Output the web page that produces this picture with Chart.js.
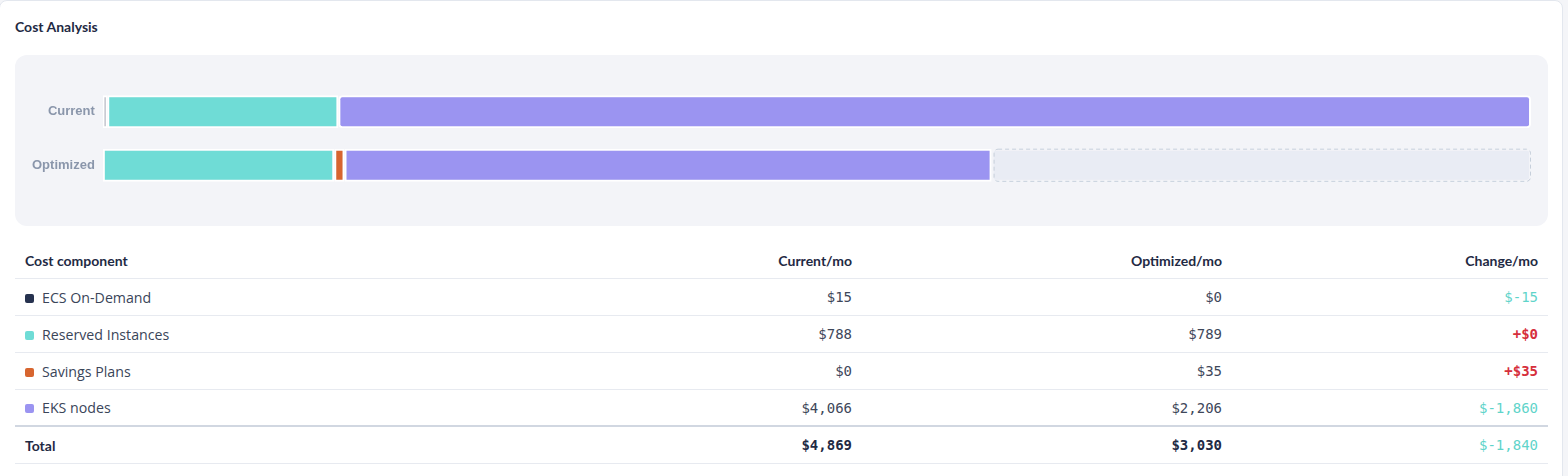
<!DOCTYPE html>
<html>
<head>
<meta charset="utf-8">
<script src="https://cdn.jsdelivr.net/npm/chart.js@4.4.1/dist/chart.umd.min.js"></script>
<style>
  html, body { margin: 0; padding: 0; background: #f4f5f8; }
  body { width: 1568px; height: 476px; overflow: hidden; font-family: "Open Sans", Lato, sans-serif; }
  .card {
    position: absolute; left: -1px; top: 0; width: 1564px; height: 500px;
    background: #fff; border: 1px solid #e3e7ee; border-radius: 8px; box-sizing: border-box;
  }
  .title {
    position: absolute; left: 15px; top: 17px;
    font-family: Lato, sans-serif; font-weight: 700; font-size: 14px; color: #1f2a44;
  }
  .panel {
    position: absolute; left: 15px; top: 54px; width: 1533px; height: 171px;
    background: #f3f4f8; border-radius: 12px;
  }
  table {
    position: absolute; left: 15px; top: 241px; width: 1533px;
    border-collapse: collapse; table-layout: fixed;
  }
  th, td { padding: 0 10px; height: 36px; font-size: 14.2px; color: #3a4559; border-bottom: 1px solid #e7eaf0; }
  th { font-family: Lato, sans-serif; font-weight: 700; color: #1f2a44; font-size: 14px; }
  th:first-child, td:first-child { text-align: left; }
  th:not(:first-child), td:not(:first-child) { text-align: right; }
  td.num { font-family: "DejaVu Sans Mono", monospace; font-size: 14px; color: #3e475a; }
  td.up { color: #d62f3c; font-weight: 700; }
  td.down { color: #5fd4ca; }
  tr.last td { height: 35px; border-bottom: 2px solid #d1d7e1; }
  tr.total td { font-weight: 700; color: #1f2a44; }
  tr.total td:first-child { font-family: Lato, sans-serif; font-size: 14px; }
  tr.total td.down { color: #5fd4ca; font-weight: 400; }
  .sw { display: inline-block; width: 9px; height: 9px; border-radius: 2px; margin-right: 8px; }
</style>
</head>
<body>
<div class="card">
  <div class="title">Cost Analysis</div>
  <div class="panel"><canvas id="chartCost"></canvas></div>
  <table id="costTable">
    <colgroup><col style="width:475px"><col style="width:372px"><col style="width:370px"><col style="width:316px"></colgroup>
    <thead><tr><th>Cost component</th><th>Current/mo</th><th>Optimized/mo</th><th>Change/mo</th></tr></thead>
    <tbody></tbody>
  </table>
</div>
<script>
// 비용 구성 요소
var components = ["ECS On-Demand", "Reserved Instances", "Savings Plans", "EKS nodes"];
var componentColors = ["#26324f", "#6fdcd6", "#d7652f", "#9b94f1"];
var rowLabels = ["Current", "Optimized"];

// 월 비용 (USD)
var currentCost = [15, 788, 0, 4066];
var optimizedCost = [0, 789, 35, 2206];
var changeCost = [-15, 0, 35, -1860];

var totalCurrent = 4869;
var totalOptimized = 3030;
var totalChange = -1840;

var fmt = function(n) { return "$" + n.toLocaleString("en-US"); };
var fmtChange = function(n) { return n >= 0 ? "+$" + n.toLocaleString("en-US") : "$" + n.toLocaleString("en-US"); };

// 표
var tbody = document.querySelector("#costTable tbody");
components.forEach(function(name, i) {
    var tr = document.createElement("tr");
    if (i === components.length - 1) tr.className = "last";
    tr.innerHTML =
        '<td><span class="sw" style="background:' + componentColors[i] + '"></span>' + name + '</td>' +
        '<td class="num">' + fmt(currentCost[i]) + '</td>' +
        '<td class="num">' + fmt(optimizedCost[i]) + '</td>' +
        '<td class="num ' + (changeCost[i] >= 0 ? "up" : "down") + '">' + fmtChange(changeCost[i]) + '</td>';
    tbody.appendChild(tr);
});
var trTotal = document.createElement("tr");
trTotal.className = "total";
trTotal.innerHTML = '<td>Total</td><td class="num">' + fmt(totalCurrent) + '</td><td class="num">' + fmt(totalOptimized) +
    '</td><td class="num ' + (totalChange >= 0 ? "up" : "down") + '">' + fmtChange(totalChange) + '</td>';
tbody.appendChild(trTotal);

// 차트 데이터셋
var datasets = components.map(function(name, i) {
    return {
        label: name,
        data: [currentCost[i], optimizedCost[i]],
        backgroundColor: componentColors[i],
        borderColor: "#ffffff",
        borderWidth: 2,
        borderSkipped: false,
        borderRadius: 4
    };
});
datasets.push({
    label: "gap",
    data: [0, totalCurrent - totalOptimized],
    backgroundColor: "#e9ecf4",
    borderColor: "#f3f4f8",
    borderWidth: 2,
    borderSkipped: false,
    borderRadius: 4
});

// 점선 테두리
var dashedGap = {
    id: "dashedGap",
    afterDatasetsDraw: function(chart) {
        var meta = chart.getDatasetMeta(chart.data.datasets.length - 1);
        var ctx = chart.ctx;
        meta.data.forEach(function(el, i) {
            if (!chart.data.datasets[meta.index].data[i]) return;
            var p = el.getProps(["x", "y", "base", "height"], true);
            var left = Math.min(p.x, p.base) + 2.5, right = Math.max(p.x, p.base) - 0.5;
            var top = p.y - p.height / 2 + 0.5, h = p.height - 1;
            ctx.save();
            ctx.setLineDash([4, 3]);
            ctx.strokeStyle = "#c6cfdb";
            ctx.lineWidth = 1;
            ctx.beginPath();
            ctx.roundRect(left, top, right - left, h, 4);
            ctx.stroke();
            ctx.restore();
        });
    }
};

new Chart(document.getElementById("chartCost").getContext("2d"), {
    type: "bar",
    data: { labels: rowLabels, datasets: datasets },
    options: {
        indexAxis: "y",
        responsive: true,
        maintainAspectRatio: false,
        animation: false,
        layout: { padding: { left: 9, right: 17, top: 30, bottom: 34 } },
        datasets: { bar: { barPercentage: 0.62, categoryPercentage: 1 } },
        plugins: { legend: { display: false }, tooltip: { enabled: false } },
        scales: {
            x: { stacked: true, min: 0, max: totalCurrent, display: false },
            y: {
                stacked: true,
                grid: { display: false, drawTicks: false },
                border: { display: false },
                ticks: { color: "#8a96ab", padding: 8, font: { size: 13, weight: "bold" } }
            }
        }
    },
    plugins: [dashedGap]
});
</script>
</body>
</html>
